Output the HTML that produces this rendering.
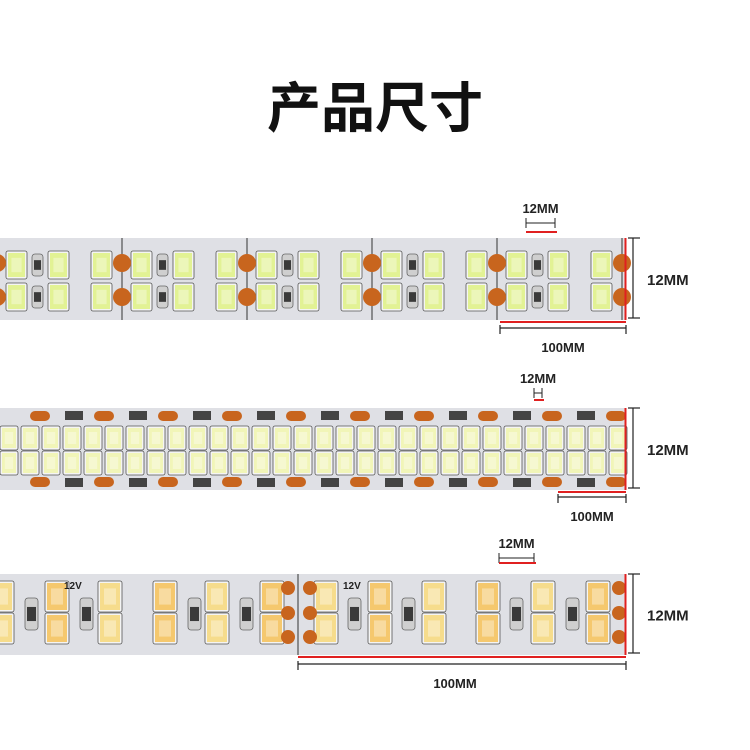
<!DOCTYPE html>
<html><head><meta charset="utf-8"><style>
html,body{margin:0;padding:0;background:#fff;width:750px;height:750px;overflow:hidden}
svg{display:block}
text{font-family:"Liberation Sans","Noto Sans CJK SC",sans-serif;}
</style></head><body>
<svg id="s" width="750" height="750" viewBox="0 0 750 750" xmlns="http://www.w3.org/2000/svg">
<rect width="750" height="750" fill="#fff"/>
<text x="375" y="127" text-anchor="middle" font-size="54" font-weight="bold" fill="#111" style="font-family:'Noto Sans CJK SC',sans-serif">产品尺寸</text>
<rect x="0" y="238" width="626" height="82" fill="#dfe0e5"/>
<rect x="0" y="408" width="626" height="82" fill="#dfe0e5"/>
<rect x="0" y="574" width="626" height="81" fill="#dfe0e5"/>
<g id="g1"></g><g id="g2"></g><g id="g3"></g>
<g id="ann"></g>
</svg>
<script>
var ns="http://www.w3.org/2000/svg";
function el(p,t,a,txt){var e=document.createElementNS(ns,t);for(var k in a)e.setAttribute(k,a[k]);if(txt)e.textContent=txt;document.getElementById(p).appendChild(e);return e;}
function led(p,x,y,w,h,c){el(p,'rect',{x:x-2,y:y-2,width:w+4,height:h+4,rx:2,fill:'#f4f4f4',stroke:'#555','stroke-width':0.8});el(p,'rect',{x:x,y:y,width:w,height:h,fill:c});el(p,'rect',{x:x+w*0.2,y:y+h*0.2,width:w*0.6,height:h*0.6,fill:'#fff',opacity:0.35});}
function res(p,x,y,w,h){el(p,'rect',{x:x,y:y,width:w,height:h,rx:3,fill:'#cfcfcf',stroke:'#666','stroke-width':0.8});el(p,'rect',{x:x+2,y:y+h*0.28,width:w-4,height:h*0.44,fill:'#3a3a3a'});}
for(var s=-3;s<=625;s+=125){
  if(s>0)el('g1','line',{x1:s,y1:238,x2:s,y2:320,stroke:'#333','stroke-width':1});
  [s+11,s+53,s+96].forEach(function(x){if(x<620){led('g1',x,253,17,24,'#e2f294');led('g1',x,285,17,24,'#e2f294');}});
  if(s+36<620){res('g1',s+35,254,11,22);res('g1',s+35,286,11,22);}
  el('g1','ellipse',{cx:s,cy:263,rx:9,ry:9,fill:'#c8651e'});el('g1','ellipse',{cx:s,cy:297,rx:9,ry:9,fill:'#c8651e'});
}
for(var x=2;x<620;x+=21){led('g2',x,428,14,20,'#f1f5b8');led('g2',x,453,14,20,'#f1f5b8');}
for(var x=30;x<626;x+=64){el('g2','rect',{x:x,y:411,width:20,height:10,rx:5,fill:'#c8651e'});el('g2','rect',{x:x,y:477,width:20,height:10,rx:5,fill:'#c8651e'});
 if(x+35<615){el('g2','rect',{x:x+35,y:411,width:18,height:9,fill:'#444'});el('g2','rect',{x:x+35,y:478,width:18,height:9,fill:'#444'});}}
var xs=[-8,47,100,155,207,262,316,370,424,478,533,588];
var cols=['#f6dc8c','#f5c86e','#f6dc8c','#f5c86e','#f6dc8c','#f5c86e','#f6dc8c','#f5c86e','#f6dc8c','#f5c86e','#f6dc8c','#f5c86e'];
xs.forEach(function(x,i){led('g3',x,583,20,27,cols[i]);led('g3',x,615,20,27,cols[i]);});
[25,80,188,240,348,402,510,566].forEach(function(x){res('g3',x,598,13,32);});
[288,310,619].forEach(function(cx){[588,613,637].forEach(function(y){el('g3','circle',{cx:cx,cy:y,r:7,fill:'#c8651e'});});});
el('g3','line',{x1:298,y1:574,x2:298,y2:655,stroke:'#333','stroke-width':1});
el('g3','text',{x:64,y:589,'font-size':10,'font-weight':'bold',fill:'#222'},'12V');
el('g3','text',{x:343,y:589,'font-size':10,'font-weight':'bold',fill:'#222'},'12V');
function ann(y1,y2,ty,tl,tr,ry,bl,by,labx){
 var a='ann';
 el(a,'line',{x1:625.5,y1:y1,x2:625.5,y2:y2,stroke:'#e02020','stroke-width':2});
 el(a,'line',{x1:633,y1:y1,x2:633,y2:y2-2,stroke:'#222','stroke-width':1.2});
 el(a,'line',{x1:628,y1:y1,x2:640,y2:y1,stroke:'#222','stroke-width':1.2});
 el(a,'line',{x1:628,y1:y2-2,x2:640,y2:y2-2,stroke:'#222','stroke-width':1.2});
 el(a,'text',{x:647,y:(y1+y2)/2+6,'font-size':15,'font-weight':'bold',fill:'#222'},'12MM');
 el(a,'text',{x:(tl+tr)/2,y:ty,'text-anchor':'middle','font-size':13,'font-weight':'bold',fill:'#222'},'12MM');
 el(a,'line',{x1:tl,y1:ty+10,x2:tr,y2:ty+10,stroke:'#222','stroke-width':1});
 el(a,'line',{x1:tl,y1:ty+5,x2:tl,y2:ty+15,stroke:'#222','stroke-width':1});
 el(a,'line',{x1:tr,y1:ty+5,x2:tr,y2:ty+15,stroke:'#222','stroke-width':1});
 el(a,'line',{x1:tl,y1:ry,x2:tr+2,y2:ry,stroke:'#e02020','stroke-width':2});
 el(a,'line',{x1:bl,y1:y2+2,x2:626,y2:y2+2,stroke:'#e02020','stroke-width':2});
 el(a,'line',{x1:bl,y1:by,x2:626,y2:by,stroke:'#222','stroke-width':1.2});
 el(a,'line',{x1:bl,y1:by-3,x2:bl,y2:by+6,stroke:'#222','stroke-width':1.2});
 el(a,'line',{x1:626,y1:by-3,x2:626,y2:by+6,stroke:'#222','stroke-width':1.2});
 el(a,'text',{x:labx,y:by+24,'text-anchor':'middle','font-size':13,'font-weight':'bold',fill:'#222'},'100MM');
}
ann(238,320,213,526,555,232,500,328,563);
ann(408,490,383,534,542,400,558,497,592);
ann(574,655,548,499,534,563,298,664,455);
</script>
</body></html>
